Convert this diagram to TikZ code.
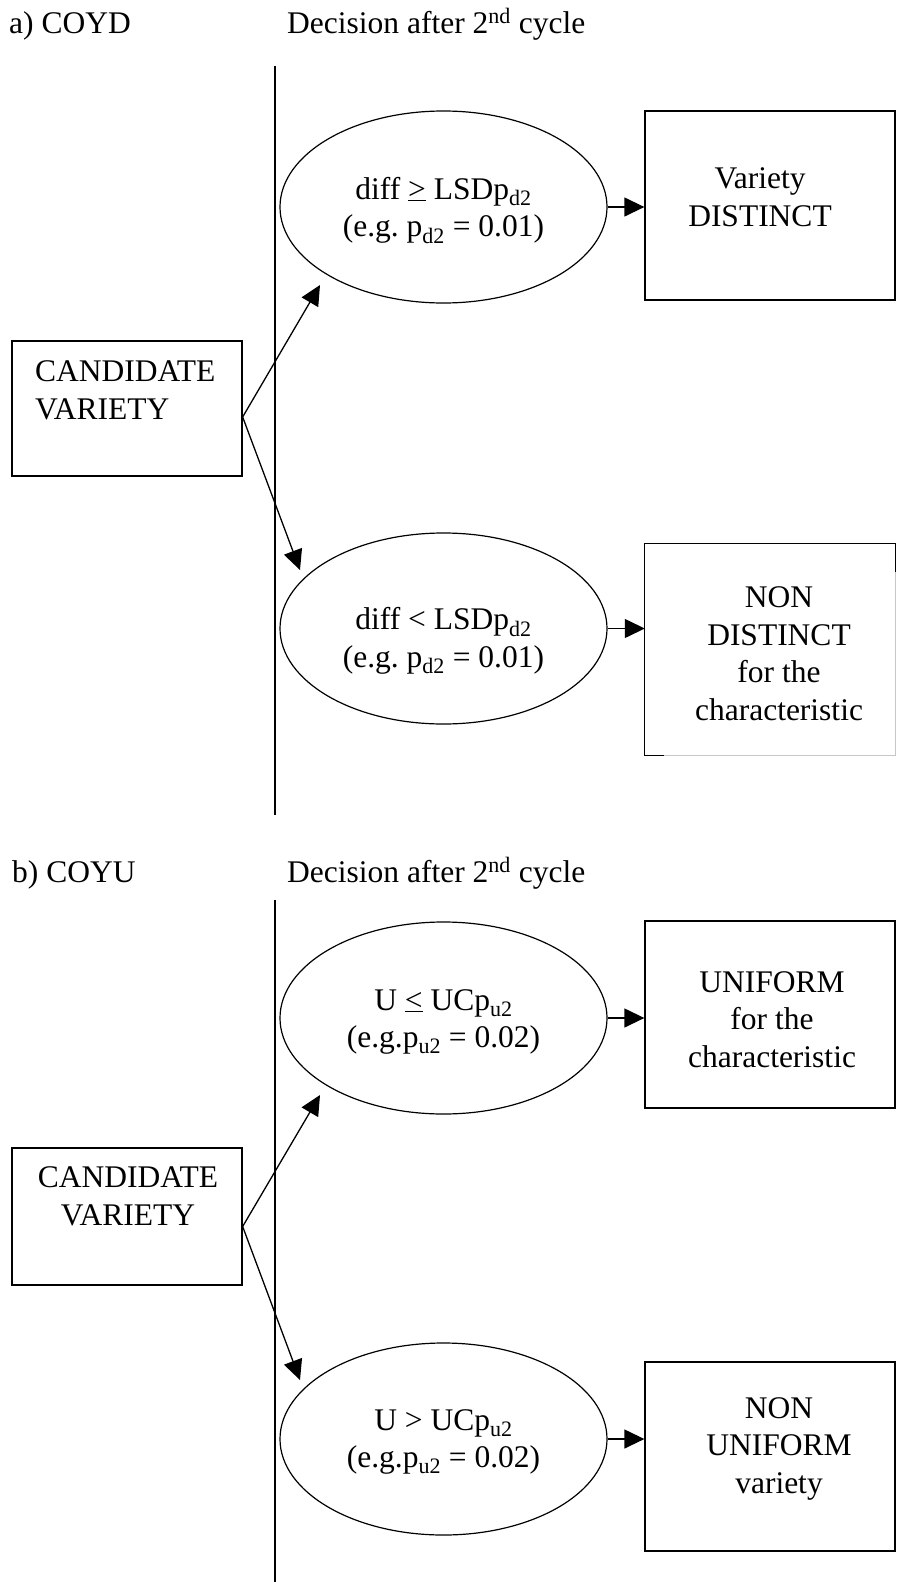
\documentclass[tikz,border=0pt]{standalone}
\usepackage{fontspec}
\setmainfont{Liberation Serif}
\usetikzlibrary{arrows.meta,shapes.geometric}
\frenchspacing
\begin{document}
\begin{tikzpicture}[x=1pt,y=-1pt,
  txt/.style={font=\fontsize{31.5}{37.5}\selectfont, inner sep=0pt, align=center, anchor=base},
  cond/.style={draw, ellipse, line width=1.2pt, minimum width=327pt, minimum height=192pt, inner sep=0pt},
  box/.style={draw, rectangle, line width=1.3pt, inner sep=0pt},
  arr/.style={line width=1.3pt, -{Triangle[length=20pt,width=19pt]}},
  divider/.style={line width=2pt}]
\useasboundingbox[fill=white] (0,0) rectangle (908,1582);

% ---------- a) COYD ----------
\node[txt, anchor=base west] (ha) at (9,33) {a) COYD};
\node[txt, anchor=base west] (hda) at (287,33) {Decision after 2\textsuperscript{nd} cycle};
\coordinate (la1) at (275,66);
\coordinate (la2) at (275,815);
\draw[divider] (la1) -- (la2);

\node[box, minimum width=230pt, minimum height=135pt] (ca) at (127,408.5) {};
\node[txt, align=left, anchor=base west] (cat) at (35,419) {CANDIDATE\\VARIETY};

\node[cond] (ea1) at (443.5,207) {};
\node[txt] (ea1t) at (443.5,236.5) {diff \underline{>} LSDp\textsubscript{d2}\\(e.g. p\textsubscript{d2} = 0.01)};
\node[cond, minimum height=191pt] (ea2) at (443.5,628.5) {};
\node[txt] (ea2t) at (443.5,667) {diff < LSDp\textsubscript{d2}\\(e.g. p\textsubscript{d2} = 0.01)};

\node[box, minimum width=250pt, minimum height=189pt] (ba1) at (770,205.5) {};
\node[txt] (ba1t) at (760,226) {Variety\\DISTINCT};

\node[minimum width=250pt, minimum height=211pt, inner sep=0pt] (ba2) at (770,649.5) {};
\draw[line width=1.3pt] ([xshift=19pt]ba2.south west) -- (ba2.south west) -- (ba2.north west) -- (ba2.north east) -- ([yshift=-28pt]ba2.north east);
\draw[black!22, line width=0.8pt] ([yshift=-28pt]ba2.north east) -- (ba2.south east) -- ([xshift=19pt]ba2.south west);
\node[txt] (ba2t) at (779,720) {NON\\DISTINCT\\for the\\characteristic};

\coordinate (ta1) at (320,285);
\coordinate (ta2) at (300,570);
\draw[arr] ([yshift=-8.5pt]ca.east) -- (ta1);
\draw[arr] ([yshift=-8.5pt]ca.east) -- (ta2);
\draw[arr] (ea1.east) -- (ea1.east -| ba1.west);
\draw[arr] (ea2.east) -- (ea2.east -| ba2.west);

% ---------- b) COYU ----------
\node[txt, anchor=base west] (hb) at (12,882) {b) COYU};
\node[txt, anchor=base west] (hdb) at (287,882) {Decision after 2\textsuperscript{nd} cycle};
\coordinate (lb1) at (275,900);
\coordinate (lb2) at (275,1582);
\draw[divider] (lb1) -- (lb2);

\node[box, minimum width=230pt, minimum height=137pt] (cb) at (127,1216.5) {};
\node[txt] (cbt) at (128,1225) {CANDIDATE\\VARIETY};

\node[cond] (eb1) at (443.5,1018) {};
\node[txt] (eb1t) at (443.5,1047.5) {U \underline{<} UCp\textsubscript{u2}\\(e.g.p\textsubscript{u2} = 0.02)};
\node[cond] (eb2) at (443.5,1439) {};
\node[txt] (eb2t) at (443.5,1467.5) {U > UCp\textsubscript{u2}\\(e.g.p\textsubscript{u2} = 0.02)};

\node[box, minimum width=250pt, minimum height=187pt] (bb1) at (770,1014.5) {};
\node[txt] (bb1t) at (772,1067) {UNIFORM\\for the\\characteristic};
\node[box, minimum width=250pt, minimum height=189pt] (bb2) at (770,1456.5) {};
\node[txt] (bb2t) at (779,1493) {NON\\UNIFORM\\variety};

\coordinate (tb1) at (320,1095);
\coordinate (tb2) at (300,1380);
\draw[arr] ([yshift=-10pt]cb.east) -- (tb1);
\draw[arr] ([yshift=-10pt]cb.east) -- (tb2);
\draw[arr] (eb1.east) -- (eb1.east -| bb1.west);
\draw[arr] (eb2.east) -- (eb2.east -| bb2.west);
\end{tikzpicture}
\end{document}
